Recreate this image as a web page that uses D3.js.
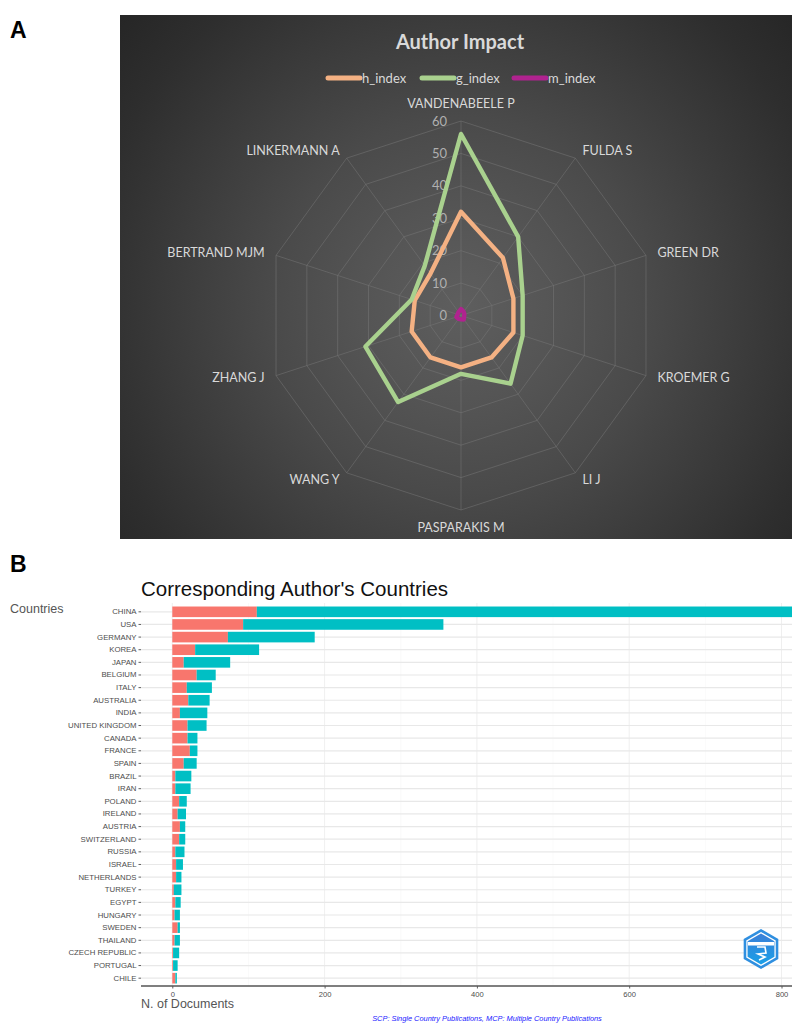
<!DOCTYPE html>
<html>
<head>
<meta charset="utf-8">
<script src="https://cdn.jsdelivr.net/npm/d3@7"></script>
<style>
  html, body { margin: 0; padding: 0; background: #ffffff; }
  svg { display: block; }
</style>
</head>
<body>
<svg id="chart" width="792" height="1023"></svg>
<script>
// ---------------- Panel A data ----------------
const authors = ["VANDENABEELE P","FULDA S","GREEN DR","KROEMER G","LI J","PASPARAKIS M","WANG Y","ZHANG J","BERTRAND MJM","LINKERMANN A"];
const hIndex = [32, 22, 17, 17, 16, 16, 16, 16, 15, 16];
const gIndex = [56, 30, 20, 20, 26, 18, 33, 31, 16, 19];
const mIndex = [2.0, 1.4, 1.1, 1.0, 1.5, 1.2, 1.3, 1.5, 1.1, 1.3];
const radarTicks = [0, 10, 20, 30, 40, 50, 60];
const radarSeries = ["h_index", "g_index", "m_index"];
const radarColors = ["#F4B183", "#A9D18E", "#B0238F"];

// ---------------- Panel B data ----------------
const countries = ["CHINA","USA","GERMANY","KOREA","JAPAN","BELGIUM","ITALY","AUSTRALIA","INDIA","UNITED KINGDOM","CANADA","FRANCE","SPAIN","BRAZIL","IRAN","POLAND","IRELAND","AUSTRIA","SWITZERLAND","RUSSIA","ISRAEL","NETHERLANDS","TURKEY","EGYPT","HUNGARY","SWEDEN","THAILAND","CZECH REPUBLIC","PORTUGAL","CHILE"];
const mcp = [111, 93, 73, 30, 15, 32, 19, 21, 10, 20, 20, 23, 15, 4, 4, 9, 7, 10, 9, 4, 5, 5, 2, 4, 3, 7, 3, 1, 1, 4];
const scp = [729, 263, 114, 84, 61, 25, 33, 28, 36, 25, 13, 10, 17, 21, 20, 10, 11, 7, 8, 12, 9, 7, 10, 7, 7, 3, 7, 8, 6, 2];
const xTicks = [0, 200, 400, 600, 800];
const barColors = { MCP: "#F8766D", SCP: "#00BFC4" };

const svg = d3.select("#chart");
const defs = svg.append("defs");

// ================= PANEL A =================
const cx = 461, cy = 315.5, rMax = 194.5;
const grad = defs.append("radialGradient").attr("id", "bgGrad")
  .attr("gradientUnits", "userSpaceOnUse")
  .attr("cx", cx).attr("cy", cy - 10).attr("r", 470);
[[0, "#5e5e5e"], [0.2, "#555555"], [0.4, "#4a4a4a"], [0.6, "#3c3c3c"], [0.8, "#2e2e2e"], [1, "#232323"]]
  .forEach(([o, c]) => grad.append("stop").attr("offset", o).attr("stop-color", c));

defs.append("clipPath").attr("id", "clipA").append("rect")
  .attr("x", 120).attr("y", 15).attr("width", 672).attr("height", 524);

const gA = svg.append("g").attr("clip-path", "url(#clipA)");
gA.append("rect").attr("x", 120).attr("y", 15).attr("width", 672).attr("height", 524)
  .attr("fill", "url(#bgGrad)");

svg.append("text").attr("x", 10).attr("y", 38).text("A")
  .attr("font-family", "Liberation Sans, Arial, sans-serif").attr("font-weight", "bold")
  .attr("font-size", 23).attr("fill", "#000");

const rScale = d3.scaleLinear().domain([0, 60]).range([0, rMax]);
const angle = d3.scalePoint().domain(authors).range([0, 2 * Math.PI * (1 - 1 / authors.length)]);
const pt = (a, r) => [cx + r * Math.sin(angle(a)), cy - r * Math.cos(angle(a))];

// rings
radarTicks.filter(t => t > 0).forEach(t => {
  gA.append("polygon")
    .attr("points", authors.map(a => pt(a, rScale(t)).join(",")).join(" "))
    .attr("fill", "none").attr("stroke", "#7a7a7a").attr("stroke-width", 0.8).attr("opacity", 0.6);
});
// spokes
authors.forEach(a => {
  const [x2, y2] = pt(a, rMax);
  gA.append("line").attr("x1", cx).attr("y1", cy).attr("x2", x2).attr("y2", y2)
    .attr("stroke", "#7a7a7a").attr("stroke-width", 0.8).attr("opacity", 0.6);
});
// tick labels
radarTicks.forEach(t => {
  gA.append("text").attr("x", cx - 14).attr("y", cy - rScale(t) + 4.5)
    .attr("text-anchor", "end").attr("font-family", "Lato, sans-serif").attr("font-size", 13)
    .attr("fill", "#b0b0b0").text(t);
});
// axis labels
authors.forEach(a => {
  const ang = angle(a);
  const s = Math.sin(ang), c = Math.cos(ang);
  const [px, py] = pt(a, rMax + 12);
  let anchor = "middle", by;
  if (Math.abs(s) < 0.1) {
    by = c > 0 ? py - 1.5 : py + 9.5;
  } else {
    anchor = s > 0 ? "start" : "end";
    by = py + 3.9 + 3.3 * c;
  }
  gA.append("text").attr("x", px).attr("y", by).attr("text-anchor", anchor)
    .attr("font-family", "Lato, sans-serif").attr("font-size", 12.5).attr("fill", "#d9d9d9")
    .text(a);
});

// series polygons
const seriesValues = [hIndex, gIndex, mIndex];
const line = d3.lineRadial().curve(d3.curveLinearClosed)
  .angle((d, i) => angle(authors[i])).radius(d => rScale(d));
seriesValues.forEach((vals, k) => {
  gA.append("path").attr("transform", `translate(${cx},${cy})`)
    .attr("d", line(vals)).attr("fill", "none")
    .attr("stroke", radarColors[k]).attr("stroke-width", 4.4).attr("stroke-linejoin", "round");
});

// title & legend
gA.append("text").attr("x", 460).attr("y", 49).attr("text-anchor", "middle")
  .attr("font-family", "Lato, sans-serif").attr("font-weight", "bold").attr("font-size", 20)
  .attr("fill", "#d9d9d9").text("Author Impact");
const legX = [328, 422, 514];
radarSeries.forEach((s, k) => {
  gA.append("line").attr("x1", legX[k]).attr("x2", legX[k] + 32).attr("y1", 78).attr("y2", 78)
    .attr("stroke", radarColors[k]).attr("stroke-width", 5).attr("stroke-linecap", "round");
  gA.append("text").attr("x", legX[k] + 34).attr("y", 82.5)
    .attr("font-family", "Lato, sans-serif").attr("font-size", 13).attr("fill", "#d9d9d9").text(s);
});

// ================= PANEL B =================
svg.append("text").attr("x", 10).attr("y", 572).text("B")
  .attr("font-family", "Liberation Sans, Arial, sans-serif").attr("font-weight", "bold")
  .attr("font-size", 23).attr("fill", "#000");

const panelLeft = 141, panelRight = 792;
const x = d3.scaleLinear().domain([0, 800]).range([172.3, 781.5]);
const y = d3.scaleBand().domain(countries).range([605.5, 984.5]).paddingInner(0.16).paddingOuter(0.08);

const gB = svg.append("g");
// vertical grid
d3.range(0, 801, 100).forEach(v => {
  gB.append("line").attr("x1", x(v)).attr("x2", x(v)).attr("y1", 603).attr("y2", 986)
    .attr("stroke", v % 200 === 0 ? "#ebebeb" : "#f4f4f4").attr("stroke-width", v % 200 === 0 ? 0.8 : 0.5);
});
// horizontal grid
countries.forEach(c => {
  gB.append("line").attr("x1", panelLeft).attr("x2", panelRight)
    .attr("y1", y(c) + y.bandwidth() / 2).attr("y2", y(c) + y.bandwidth() / 2)
    .attr("stroke", "#e8e8e8").attr("stroke-width", 1.2);
});

// bars
const rows = countries.map((c, i) => ({ c, mcp: mcp[i], scp: scp[i] }));
gB.selectAll("rect.mcp").data(rows).join("rect").attr("class", "mcp")
  .attr("x", x(0)).attr("y", d => y(d.c)).attr("height", y.bandwidth())
  .attr("width", d => x(d.mcp) - x(0)).attr("fill", barColors.MCP);
gB.selectAll("rect.scp").data(rows).join("rect").attr("class", "scp")
  .attr("x", d => x(d.mcp)).attr("y", d => y(d.c)).attr("height", y.bandwidth())
  .attr("width", d => x(d.mcp + d.scp) - x(d.mcp)).attr("fill", barColors.SCP);

// y axis
const yAxis = gB.append("g").attr("transform", `translate(${panelLeft},0)`)
  .call(d3.axisLeft(y).tickSize(2.5).tickPadding(2));
yAxis.select(".domain").remove();
yAxis.selectAll("line").attr("stroke", "#4d4d4d").attr("stroke-width", 0.9);
yAxis.selectAll("text").attr("font-family", "Liberation Sans, Arial, sans-serif")
  .attr("font-size", 7.8).attr("fill", "#4d4d4d");

// x axis
const xAxis = gB.append("g").attr("transform", "translate(0,986)")
  .call(d3.axisBottom(x).tickValues(xTicks).tickSize(2.5).tickPadding(3));
xAxis.select(".domain").remove();
xAxis.selectAll("line").attr("stroke", "#4d4d4d").attr("stroke-width", 0.9);
xAxis.selectAll("text").attr("font-family", "Liberation Sans, Arial, sans-serif")
  .attr("font-size", 7.6).attr("fill", "#4d4d4d");
gB.append("line").attr("x1", panelLeft).attr("x2", panelRight).attr("y1", 986).attr("y2", 986)
  .attr("stroke", "#555").attr("stroke-width", 1.4);

// titles
svg.append("text").attr("x", 141).attr("y", 596)
  .attr("font-family", "Liberation Sans, Arial, sans-serif").attr("font-size", 20.5)
  .attr("fill", "#111").text("Corresponding Author's Countries");
svg.append("text").attr("x", 10).attr("y", 613)
  .attr("font-family", "Liberation Sans, Arial, sans-serif").attr("font-size", 12.5)
  .attr("fill", "#555").text("Countries");
svg.append("text").attr("x", 141).attr("y", 1008)
  .attr("font-family", "Liberation Sans, Arial, sans-serif").attr("font-size", 12.5)
  .attr("fill", "#555").text("N. of Documents");
svg.append("text").attr("x", 487).attr("y", 1021).attr("text-anchor", "middle")
  .attr("font-family", "Liberation Sans, Arial, sans-serif").attr("font-style", "italic")
  .attr("font-size", 7.4).attr("fill", "#1a1aff")
  .text("SCP: Single Country Publications, MCP: Multiple Country Publications");

// logo (bibliometrix hexagon)
const lg = svg.append("g").attr("transform", "translate(761,949)");
const hexGrad = defs.append("linearGradient").attr("id", "hexGrad").attr("x1", 0).attr("y1", 0).attr("x2", 0).attr("y2", 1);
hexGrad.append("stop").attr("offset", 0).attr("stop-color", "#3a7fd8");
hexGrad.append("stop").attr("offset", 1).attr("stop-color", "#1aa0e8");
const hex = r => d3.range(6).map(i => { const a = Math.PI / 3 * i; return [r * Math.sin(a), -r * Math.cos(a)].join(","); }).join(" ");
lg.append("polygon").attr("points", hex(20)).attr("fill", "#2f8fe0");
lg.append("polygon").attr("points", hex(17)).attr("fill", "#ffffff");
lg.append("polygon").attr("points", hex(15.5)).attr("fill", "url(#hexGrad)");
lg.append("rect").attr("x", -13).attr("y", -7).attr("width", 26).attr("height", 3.5).attr("fill", "#ffffff");
lg.append("path").attr("d", "M-4,-2 L4,-2 L5,4 L-3,5 L4,8 L-2,11").attr("fill", "none")
  .attr("stroke", "#ffffff").attr("stroke-width", 1.6);
</script>
</body>
</html>
